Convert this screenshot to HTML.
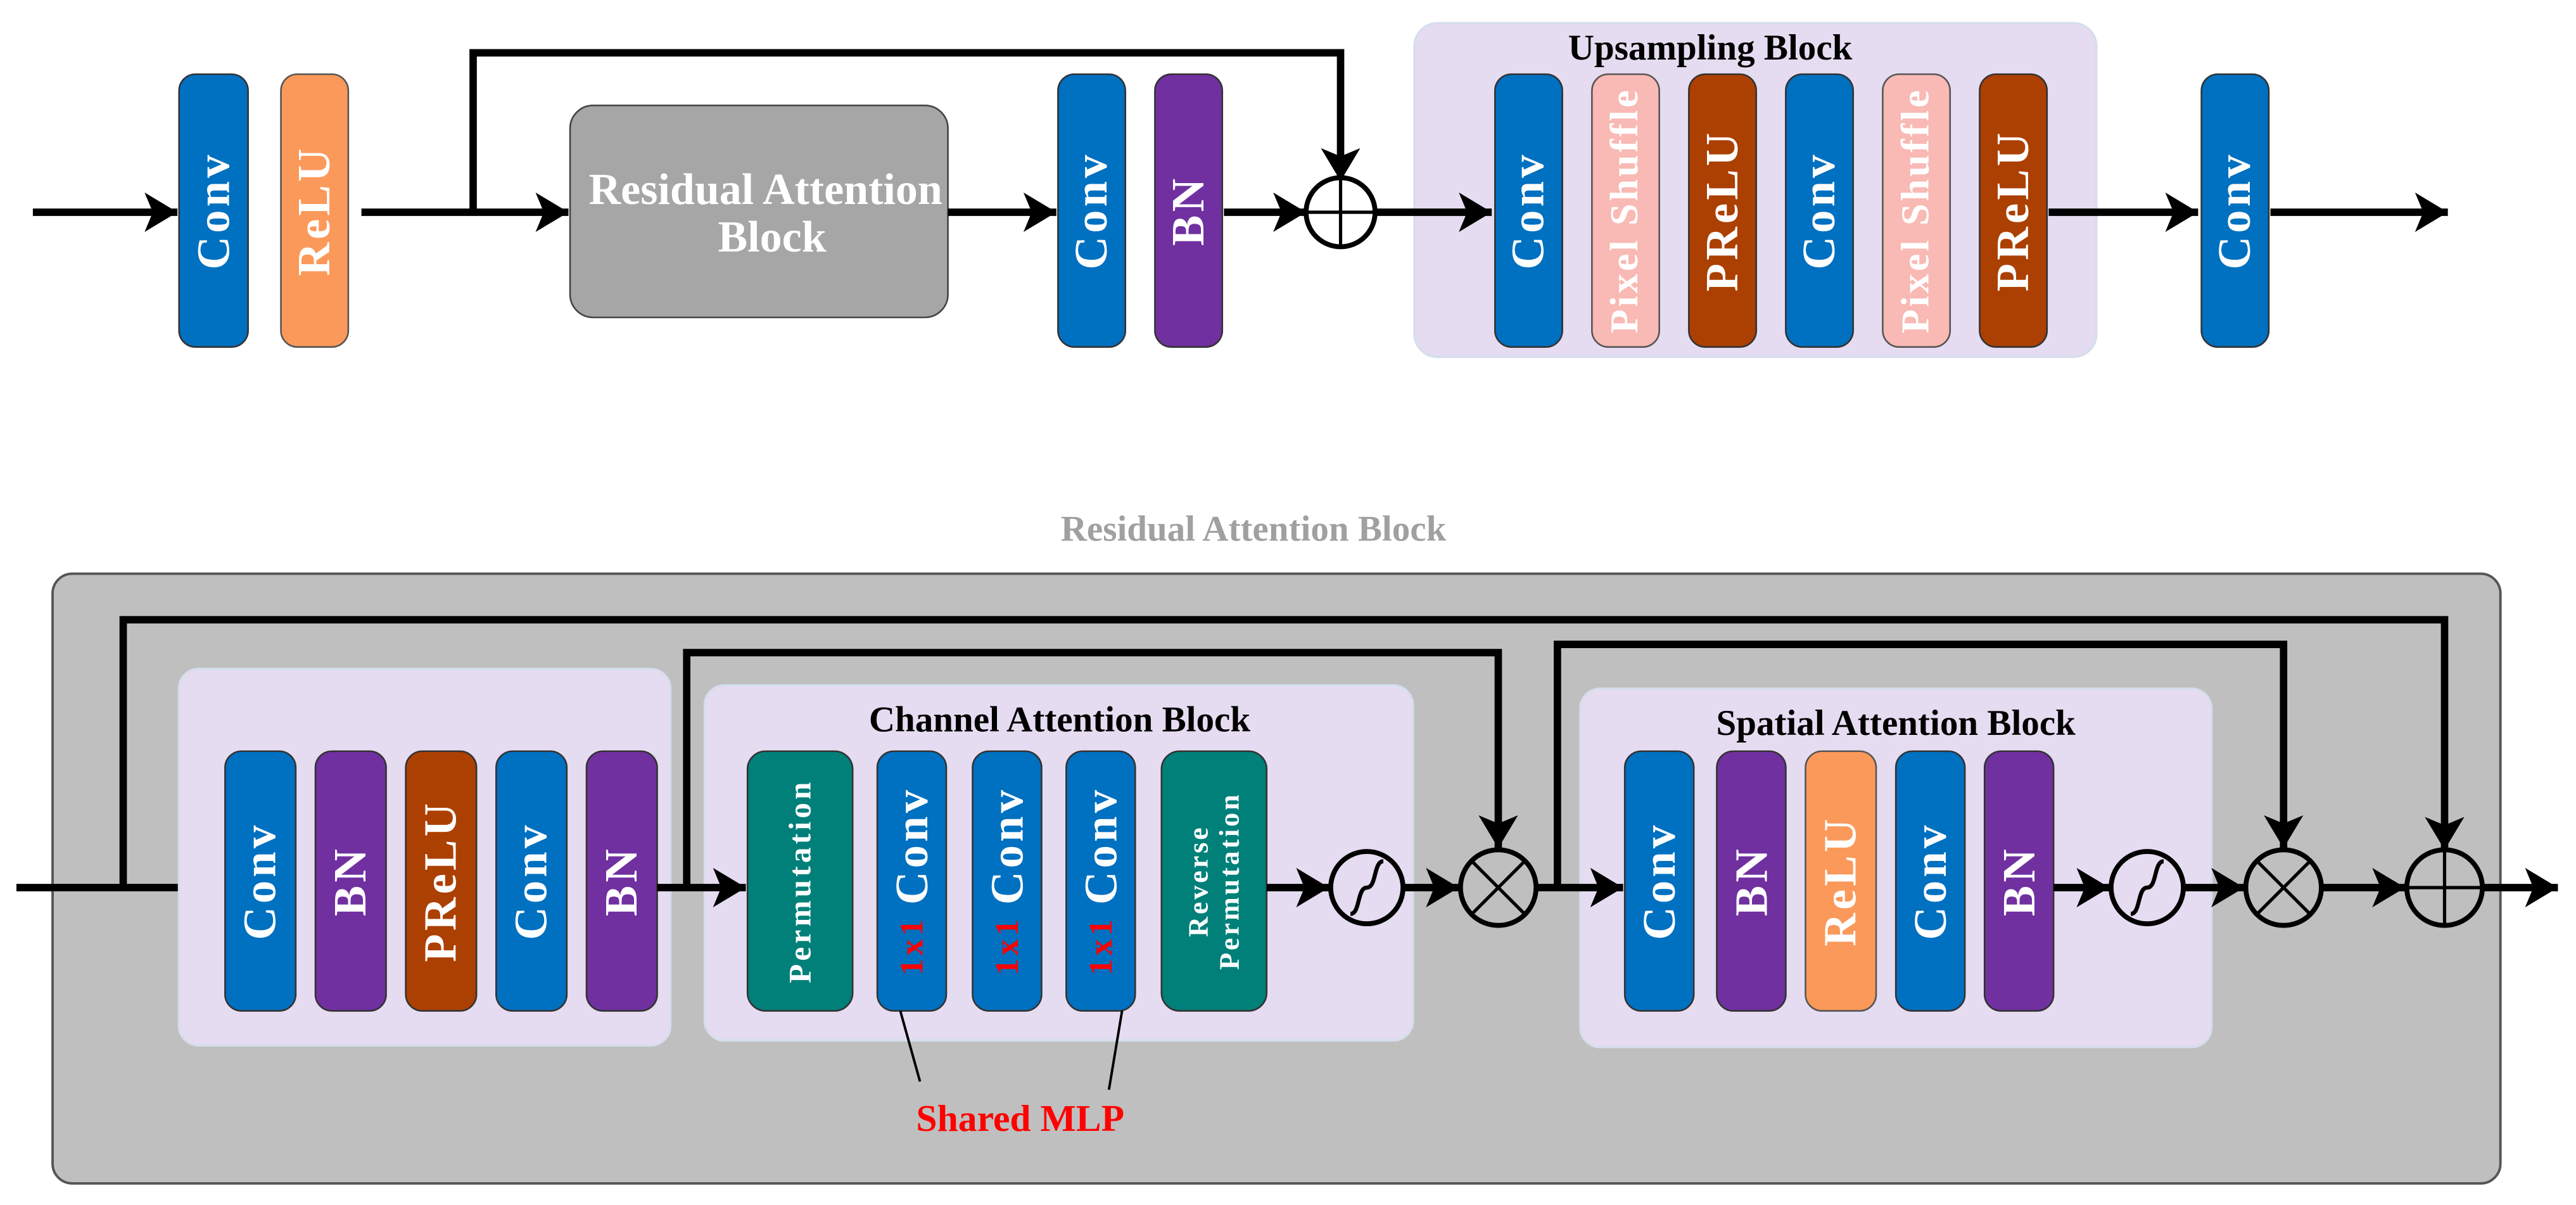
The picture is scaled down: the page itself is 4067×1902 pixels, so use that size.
<!DOCTYPE html>
<html><head><meta charset="utf-8"><style>
html,body{margin:0;padding:0;background:#fff;}
svg{display:block;}
text{font-family:"Liberation Serif",serif;font-weight:bold;}
.w{fill:#fff;font-size:28px;letter-spacing:2px;}
.ln{stroke:#000;stroke-width:4.5;fill:none;}
</style></head><body>
<svg width="4067" height="1902" viewBox="0 0 1568 733" xmlns="http://www.w3.org/2000/svg">
<defs>
<marker id="a" markerUnits="userSpaceOnUse" markerWidth="22" markerHeight="24" refX="20" refY="12" orient="auto">
<path d="M0,0 L20,12 L0,24 L5,12 Z" fill="#000"/>
</marker>
</defs>

<!-- TOP ROW -->
<line class="ln" x1="20" y1="129" x2="108" y2="129" marker-end="url(#a)"/>
<rect x="109" y="45" width="42" height="166" rx="10" fill="#0070C0" stroke="#333" stroke-width="1"/>
<text class="w" transform="translate(130,128) rotate(-90)" text-anchor="middle" dominant-baseline="central">Conv</text>
<rect x="171" y="45" width="41" height="166" rx="10" fill="#FB995A" stroke="#555" stroke-width="1"/>
<text class="w" transform="translate(191,128) rotate(-90)" text-anchor="middle" dominant-baseline="central">ReLU</text>
<line class="ln" x1="220" y1="129" x2="346" y2="129" marker-end="url(#a)"/>
<polyline class="ln" points="288,129 288,32 816,32 816,110" marker-end="url(#a)"/>
<rect x="347" y="64" width="230" height="129" rx="14" fill="#A6A6A6" stroke="#444" stroke-width="1"/>
<text x="466" y="124" fill="#fff" font-size="27" text-anchor="middle">Residual Attention</text>
<text x="470" y="153" fill="#fff" font-size="27" text-anchor="middle">Block</text>
<line class="ln" x1="577" y1="129" x2="643" y2="129" marker-end="url(#a)"/>
<rect x="644" y="45" width="41" height="166" rx="10" fill="#0070C0" stroke="#333" stroke-width="1"/>
<text class="w" transform="translate(664,128) rotate(-90)" text-anchor="middle" dominant-baseline="central">Conv</text>
<rect x="703" y="45" width="41" height="166" rx="10" fill="#7030A0" stroke="#333" stroke-width="1"/>
<text class="w" transform="translate(723,128) rotate(-90)" text-anchor="middle" dominant-baseline="central">BN</text>
<line class="ln" x1="745" y1="129" x2="795" y2="129" marker-end="url(#a)"/>
<circle cx="816" cy="129" r="21" fill="#fff" stroke="#000" stroke-width="3"/>
<line x1="795" y1="129" x2="837" y2="129" stroke="#000" stroke-width="2"/>
<line x1="816" y1="108" x2="816" y2="150" stroke="#000" stroke-width="2"/>

<rect x="861" y="14" width="415" height="203" rx="14" fill="#E6DCF1" stroke="#D6DEEC" stroke-width="1.5"/>
<text x="1041" y="36" font-size="22" text-anchor="middle" fill="#000">Upsampling Block</text>
<line class="ln" x1="838" y1="129" x2="908" y2="129" marker-end="url(#a)"/>
<rect x="910" y="45" width="41" height="166" rx="10" fill="#0070C0" stroke="#333" stroke-width="1"/>
<text class="w" transform="translate(930,128) rotate(-90)" text-anchor="middle" dominant-baseline="central">Conv</text>
<rect x="969" y="45" width="41" height="166" rx="10" fill="#F9B9B4" stroke="#555" stroke-width="1"/>
<text class="w" transform="translate(989,128) rotate(-90)" text-anchor="middle" dominant-baseline="central" style="font-size:24px;letter-spacing:1.5px">Pixel Shuffle</text>
<rect x="1028" y="45" width="41" height="166" rx="10" fill="#AC4002" stroke="#333" stroke-width="1"/>
<text class="w" transform="translate(1048,128) rotate(-90)" text-anchor="middle" dominant-baseline="central">PReLU</text>
<rect x="1087" y="45" width="41" height="166" rx="10" fill="#0070C0" stroke="#333" stroke-width="1"/>
<text class="w" transform="translate(1107,128) rotate(-90)" text-anchor="middle" dominant-baseline="central">Conv</text>
<rect x="1146" y="45" width="41" height="166" rx="10" fill="#F9B9B4" stroke="#555" stroke-width="1"/>
<text class="w" transform="translate(1166,128) rotate(-90)" text-anchor="middle" dominant-baseline="central" style="font-size:24px;letter-spacing:1.5px">Pixel Shuffle</text>
<rect x="1205" y="45" width="41" height="166" rx="10" fill="#AC4002" stroke="#333" stroke-width="1"/>
<text class="w" transform="translate(1225,128) rotate(-90)" text-anchor="middle" dominant-baseline="central">PReLU</text>
<line class="ln" x1="1247" y1="129" x2="1338" y2="129" marker-end="url(#a)"/>
<rect x="1340" y="45" width="41" height="166" rx="10" fill="#0070C0" stroke="#333" stroke-width="1"/>
<text class="w" transform="translate(1360,128) rotate(-90)" text-anchor="middle" dominant-baseline="central">Conv</text>
<line class="ln" x1="1382" y1="129" x2="1490" y2="129" marker-end="url(#a)"/>

<!-- BOTTOM -->
<text x="763" y="329" font-size="22" fill="#A0A0A0" text-anchor="middle">Residual Attention Block</text>
<rect x="32" y="349" width="1490" height="371" rx="12" fill="#BFBFBF" stroke="#555" stroke-width="1.5"/>

<line class="ln" x1="10" y1="540" x2="135" y2="540" marker-end="url(#a)"/>
<polyline class="ln" points="75,540 75,377 1488,377 1488,517" marker-end="url(#a)"/>
<polyline class="ln" points="418,540 418,397 912,397 912,516" marker-end="url(#a)"/>
<polyline class="ln" points="948,540 948,392 1390,392 1390,516" marker-end="url(#a)"/>

<rect x="109" y="407" width="299" height="229" rx="12" fill="#E6DCF1" stroke="#D6DEEC" stroke-width="1.5"/>
<rect x="137" y="457" width="43" height="158" rx="10" fill="#0070C0" stroke="#333" stroke-width="1"/>
<text class="w" transform="translate(158,536) rotate(-90)" text-anchor="middle" dominant-baseline="central">Conv</text>
<rect x="192" y="457" width="43" height="158" rx="10" fill="#7030A0" stroke="#333" stroke-width="1"/>
<text class="w" transform="translate(213,536) rotate(-90)" text-anchor="middle" dominant-baseline="central">BN</text>
<rect x="247" y="457" width="43" height="158" rx="10" fill="#AC4002" stroke="#333" stroke-width="1"/>
<text class="w" transform="translate(268,536) rotate(-90)" text-anchor="middle" dominant-baseline="central">PReLU</text>
<rect x="302" y="457" width="43" height="158" rx="10" fill="#0070C0" stroke="#333" stroke-width="1"/>
<text class="w" transform="translate(323,536) rotate(-90)" text-anchor="middle" dominant-baseline="central">Conv</text>
<rect x="357" y="457" width="43" height="158" rx="10" fill="#7030A0" stroke="#333" stroke-width="1"/>
<text class="w" transform="translate(378,536) rotate(-90)" text-anchor="middle" dominant-baseline="central">BN</text>

<rect x="429" y="417" width="431" height="216" rx="12" fill="#E6DCF1" stroke="#D6DEEC" stroke-width="1.5"/>
<text x="645" y="445" font-size="22" text-anchor="middle" fill="#000">Channel Attention Block</text>
<line class="ln" x1="400" y1="540" x2="454" y2="540" marker-end="url(#a)"/>
<rect x="455" y="457" width="64" height="158" rx="11" fill="#008079" stroke="#333" stroke-width="1"/>
<text class="w" transform="translate(487,536) rotate(-90)" text-anchor="middle" dominant-baseline="central" style="font-size:19px;letter-spacing:2px">Permutation</text>
<rect x="534" y="457" width="42" height="158" rx="10" fill="#0070C0" stroke="#333" stroke-width="1"/>
<text class="w" transform="translate(555,536) rotate(-90)" text-anchor="middle" dominant-baseline="central"><tspan fill="#FF0000" style="font-size:20px">1x1 </tspan>Conv</text>
<rect x="592" y="457" width="42" height="158" rx="10" fill="#0070C0" stroke="#333" stroke-width="1"/>
<text class="w" transform="translate(613,536) rotate(-90)" text-anchor="middle" dominant-baseline="central"><tspan fill="#FF0000" style="font-size:20px">1x1 </tspan>Conv</text>
<rect x="649" y="457" width="42" height="158" rx="10" fill="#0070C0" stroke="#333" stroke-width="1"/>
<text class="w" transform="translate(670,536) rotate(-90)" text-anchor="middle" dominant-baseline="central"><tspan fill="#FF0000" style="font-size:20px">1x1 </tspan>Conv</text>
<rect x="707" y="457" width="64" height="158" rx="11" fill="#008079" stroke="#333" stroke-width="1"/>
<text class="w" transform="translate(739,536) rotate(-90)" text-anchor="middle" style="font-size:17px;letter-spacing:1.5px"><tspan x="0" y="-4">Reverse</tspan><tspan x="0" y="15">Permutation</tspan></text>
<line class="ln" x1="771" y1="540" x2="809" y2="540" marker-end="url(#a)"/>
<circle cx="832" cy="540" r="22" fill="none" stroke="#000" stroke-width="3"/>
<path d="M822,556 C828,556 826,540 832,540 C838,540 836,524 842,524" fill="none" stroke="#000" stroke-width="2.5"/>
<line class="ln" x1="854" y1="540" x2="888" y2="540" marker-end="url(#a)"/>
<circle cx="912" cy="540" r="23" fill="none" stroke="#000" stroke-width="3"/>
<line x1="896" y1="524" x2="928" y2="556" stroke="#000" stroke-width="2"/>
<line x1="928" y1="524" x2="896" y2="556" stroke="#000" stroke-width="2"/>

<polyline points="548,615 560,658" fill="none" stroke="#000" stroke-width="1.5"/>
<polyline points="683,615 675,663" fill="none" stroke="#000" stroke-width="1.5"/>
<text x="621" y="688" font-size="23" fill="#FF0000" text-anchor="middle">Shared MLP</text>

<rect x="962" y="419" width="384" height="218" rx="12" fill="#E6DCF1" stroke="#D6DEEC" stroke-width="1.5"/>
<text x="1154" y="447" font-size="22" text-anchor="middle" fill="#000">Spatial Attention Block</text>
<line class="ln" x1="935" y1="540" x2="988" y2="540" marker-end="url(#a)"/>
<rect x="989" y="457" width="42" height="158" rx="10" fill="#0070C0" stroke="#333" stroke-width="1"/>
<text class="w" transform="translate(1010,536) rotate(-90)" text-anchor="middle" dominant-baseline="central">Conv</text>
<rect x="1045" y="457" width="42" height="158" rx="10" fill="#7030A0" stroke="#333" stroke-width="1"/>
<text class="w" transform="translate(1066,536) rotate(-90)" text-anchor="middle" dominant-baseline="central">BN</text>
<rect x="1099" y="457" width="43" height="158" rx="10" fill="#FB995A" stroke="#555" stroke-width="1"/>
<text class="w" transform="translate(1120,536) rotate(-90)" text-anchor="middle" dominant-baseline="central">ReLU</text>
<rect x="1154" y="457" width="42" height="158" rx="10" fill="#0070C0" stroke="#333" stroke-width="1"/>
<text class="w" transform="translate(1175,536) rotate(-90)" text-anchor="middle" dominant-baseline="central">Conv</text>
<rect x="1208" y="457" width="42" height="158" rx="10" fill="#7030A0" stroke="#333" stroke-width="1"/>
<text class="w" transform="translate(1229,536) rotate(-90)" text-anchor="middle" dominant-baseline="central">BN</text>
<line class="ln" x1="1250" y1="540" x2="1284" y2="540" marker-end="url(#a)"/>
<circle cx="1307" cy="540" r="22" fill="none" stroke="#000" stroke-width="3"/>
<path d="M1297,556 C1303,556 1301,540 1307,540 C1313,540 1311,524 1317,524" fill="none" stroke="#000" stroke-width="2.5"/>
<line class="ln" x1="1329" y1="540" x2="1366" y2="540" marker-end="url(#a)"/>
<circle cx="1390" cy="540" r="23" fill="none" stroke="#000" stroke-width="3"/>
<line x1="1374" y1="524" x2="1406" y2="556" stroke="#000" stroke-width="2"/>
<line x1="1406" y1="524" x2="1374" y2="556" stroke="#000" stroke-width="2"/>
<line class="ln" x1="1413" y1="540" x2="1464" y2="540" marker-end="url(#a)"/>
<circle cx="1488" cy="540" r="23" fill="none" stroke="#000" stroke-width="3"/>
<line x1="1465" y1="540" x2="1511" y2="540" stroke="#000" stroke-width="2"/>
<line x1="1488" y1="517" x2="1488" y2="563" stroke="#000" stroke-width="2"/>
<line class="ln" x1="1511" y1="540" x2="1557" y2="540" marker-end="url(#a)"/>
</svg>
</body></html>
